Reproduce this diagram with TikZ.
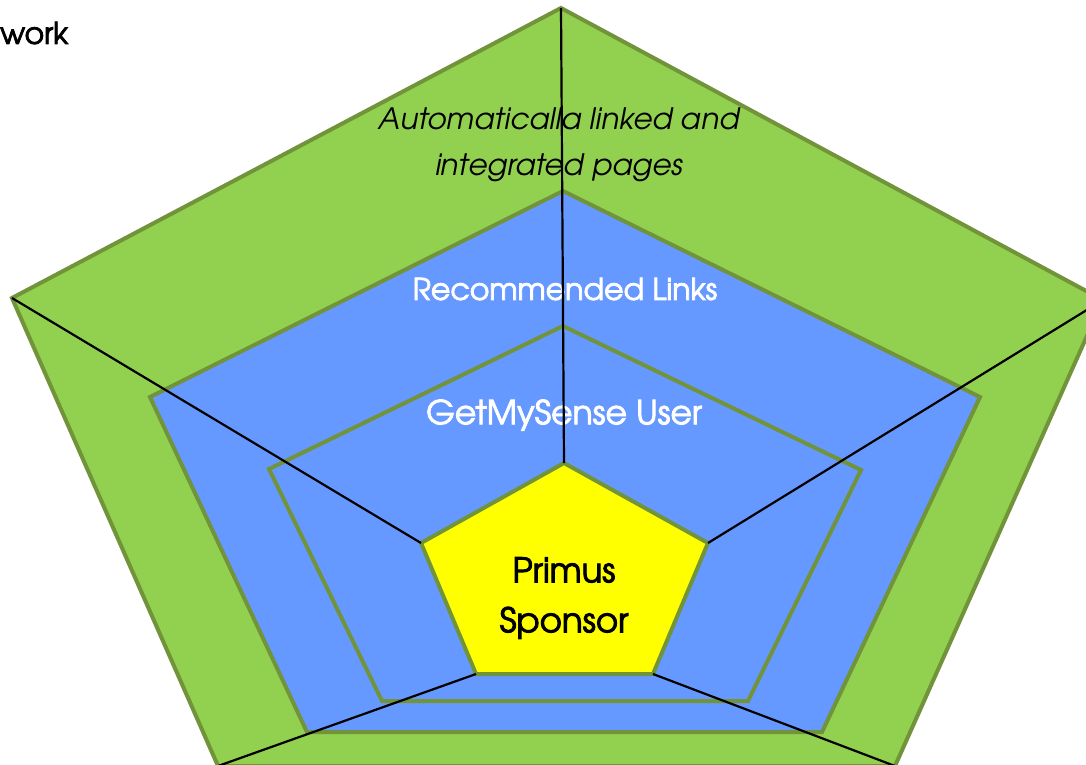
\documentclass[tikz,border=0pt]{standalone}
\usepackage{fontspec}
\setmainfont{TeX Gyre Adventor}[AutoFakeBold=2.6]
\definecolor{lgreen}{HTML}{92D050}
\definecolor{dgreen}{HTML}{71933A}
\definecolor{lblue}{HTML}{6699FF}
\definecolor{yel}{HTML}{FFFF00}
\tikzset{
  ring/.style={draw=dgreen, line width=4pt, line join=miter},
  spoke/.style={draw=black, line width=2.2pt},
  lbl/.style={font=\fontsize{30}{46}\selectfont\bfseries, align=center, inner sep=0pt},
}
\begin{document}
\begin{tikzpicture}[x=1pt,y=-1pt]
\clip (0,0) rectangle (1086,764);
\fill[white] (0,0) rectangle (1086,764);
% outer pentagon
\coordinate (ot) at (561,8);
\coordinate (ol) at (12,298);
\coordinate (or) at (1103,300);
\coordinate (obl) at (218,766);
\coordinate (obr) at (895,766);
% blue pentagon
\coordinate (bt) at (563,191);
\coordinate (bl) at (150,397);
\coordinate (br) at (980,397);
\coordinate (bbl) at (307,732);
\coordinate (bbr) at (822,732);
% inner pentagon
\coordinate (it) at (563,326);
\coordinate (il) at (269,469);
\coordinate (ir) at (861,470);
\coordinate (ibl) at (382,701);
\coordinate (ibr) at (748,701);
% yellow pentagon
\coordinate (yt) at (564,463);
\coordinate (yl) at (421,543);
\coordinate (yr) at (708,543);
\coordinate (ybl) at (476,674);
\coordinate (ybr) at (653,674);

\path[ring, fill=lgreen] (ot) -- (or) -- (obr) -- (obl) -- (ol) -- cycle;
\path[ring, fill=lblue] (bt) -- (br) -- (bbr) -- (bbl) -- (bl) -- cycle;
\path[ring, fill=lblue] (it) -- (ir) -- (ibr) -- (ibl) -- (il) -- cycle;
\path[ring, fill=yel] (yt) -- (yr) -- (ybr) -- (ybl) -- (yl) -- cycle;

\node[lbl, font=\fontsize{29.5}{46}\selectfont\bfseries\itshape] (auto) at (559,145) {Automaticalla linked and\\integrated pages};
\node[lbl, text=white] (rec) at (565,289) {Recommended Links};
\node[lbl, text=white, font=\fontsize{33}{46}\selectfont\bfseries] (gms) at (564,415) {GetMySense User};
\node[lbl, font=\fontsize{34}{50}\selectfont\bfseries] (prim) at (564,598) {Primus\\Sponsor};
\node[lbl, anchor=west] (work) at (0,33) {work};

\draw[spoke] (ot) -- (yt);
\draw[spoke] (ol) -- (yl);
\draw[spoke] (or) -- (yr);
\draw[spoke] (obl) -- (ybl);
\draw[spoke] (obr) -- (ybr);
\end{tikzpicture}
\end{document}
